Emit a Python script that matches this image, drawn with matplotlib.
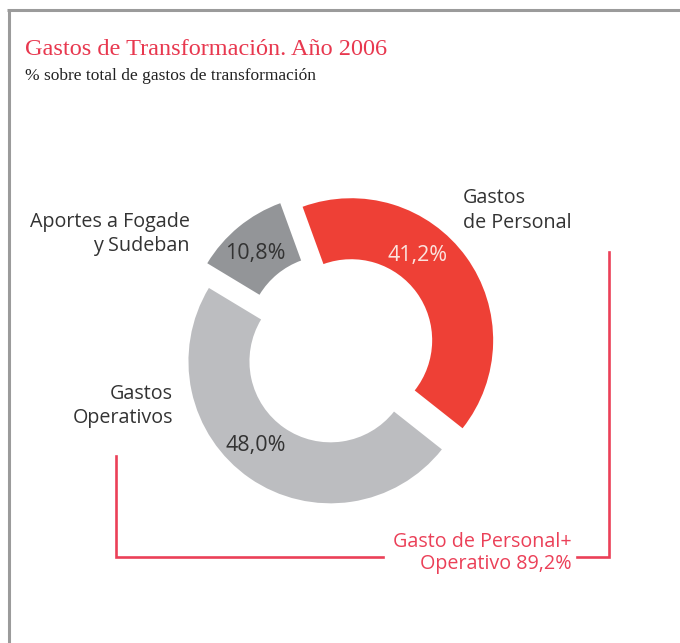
import matplotlib
matplotlib.use("Agg")
import matplotlib.pyplot as plt

# Data
categories = ["Gastos\nde Personal", "Gastos\nOperativos", "Aportes a Fogade\ny Sudeban"]
values = [41.2, 48.0, 10.8]
pct_labels = ["41,2%", "48,0%", "10,8%"]
colors = ["#EE4036", "#BCBDC0", "#939598"]
total_label = "Gasto de Personal+\nOperativo 89,2%"

W, H = 680, 643
fig = plt.figure(figsize=(W / 100, H / 100), dpi=100)
ax = fig.add_axes([0, 0, 1, 1])

def Y(y):
    # image pixel row -> data y
    return H - y

# donut, exploded
ax.pie(values, colors=colors, radius=142, center=(339, Y(349)),
       startangle=110, counterclock=False, explode=[15, 15, 16],
       wedgeprops=dict(width=61, edgecolor="none"))

ax.set_xlim(0, W)
ax.set_ylim(0, H)
ax.set_aspect("equal")
ax.axis("off")

# frame
frame_c = "#9B9B9B"
ax.plot([7, W], [Y(10), Y(10)], color=frame_c, lw=2.2, solid_capstyle="butt")
ax.plot([8.5, 8.5], [Y(10), 0], color=frame_c, lw=2.2, solid_capstyle="butt")

# titles
red_t = "#E8384F"
ax.text(25, Y(55), "Gastos de Transformación. Año 2006", color=red_t,
        fontsize=17.5, family="Liberation Serif", va="baseline", ha="left")
ax.text(25, Y(80), "% sobre total de gastos de transformación", color="#222222",
        fontsize=12.5, family="Liberation Serif", va="baseline", ha="left")

sans = "Open Sans"
txt_c = "#333333"
fs = 14.2
ax.text(463, Y(188), categories[0], color=txt_c, fontsize=fs, family=sans,
        ha="left", va="top", linespacing=1.3)
ax.text(190, Y(212), categories[2], color=txt_c, fontsize=fs, family=sans,
        ha="right", va="top", linespacing=1.3, multialignment="right")
ax.text(173, Y(384), categories[1], color=txt_c, fontsize=fs, family=sans,
        ha="right", va="top", linespacing=1.3, multialignment="right")

pfs = 15.5
ax.text(418, Y(256), pct_labels[0], color="#FBE3DE", fontsize=pfs, family=sans,
        ha="center", va="center")
ax.text(256, Y(445), pct_labels[1], color=txt_c, fontsize=pfs, family=sans,
        ha="center", va="center")
ax.text(255, Y(254), pct_labels[2], color=txt_c, fontsize=pfs, family=sans,
        ha="center", va="center")

# bracket for combined share
br_c = "#EB4058"
ax.plot([116, 116, 383], [Y(456), Y(557), Y(557)], color=br_c, lw=1.9,
        solid_joinstyle="miter")
ax.plot([609, 609, 577], [Y(252), Y(557), Y(557)], color=br_c, lw=1.9,
        solid_joinstyle="miter")
ax.text(572, Y(532), total_label, color=br_c, fontsize=fs, family=sans,
        ha="right", va="top", linespacing=1.15, multialignment="right")

fig.savefig("out.png", dpi=100)
